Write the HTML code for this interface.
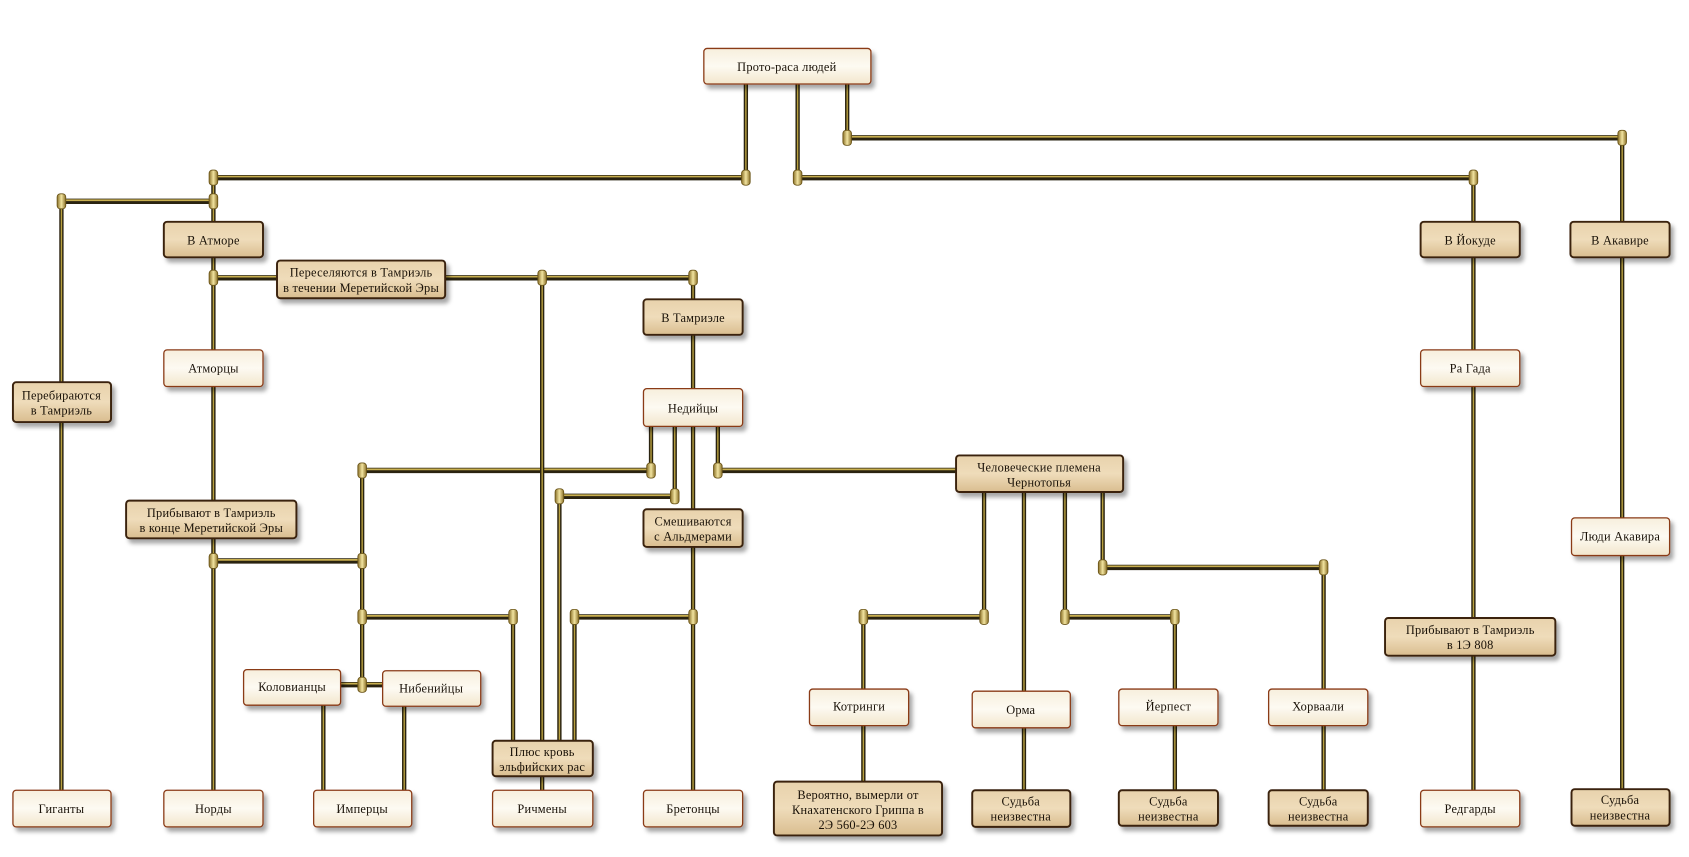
<!DOCTYPE html>
<html><head><meta charset="utf-8">
<style>
html,body{margin:0;padding:0;background:#fff;width:1689px;height:857px;overflow:hidden}
svg{display:block}
text{font-family:"Liberation Serif","DejaVu Serif",serif;font-size:11.5px;fill:#1a1208;text-anchor:middle;letter-spacing:0.2px}
</style></head><body>
<svg width="1689" height="857" viewBox="0 0 1567 796" preserveAspectRatio="none" xmlns="http://www.w3.org/2000/svg">
<defs>
<linearGradient id="tan" x1="0" y1="0" x2="0" y2="1"><stop offset="0" stop-color="#e8d2ac"/><stop offset="0.5" stop-color="#efdcba"/><stop offset="1" stop-color="#d9bd8f"/></linearGradient>
<linearGradient id="cream" x1="0" y1="0" x2="0" y2="1"><stop offset="0" stop-color="#f7efdd"/><stop offset="0.5" stop-color="#fdfaf2"/><stop offset="1" stop-color="#f2e6cc"/></linearGradient>
<linearGradient id="node" x1="0" y1="0" x2="1" y2="0"><stop offset="0" stop-color="#8a7028"/><stop offset="0.5" stop-color="#f2e4a0"/><stop offset="1" stop-color="#8a7028"/></linearGradient>
<filter id="sh" x="-10%" y="-10%" width="130%" height="150%"><feDropShadow dx="3" dy="4" stdDeviation="2" flood-color="#000" flood-opacity="0.35"/></filter>
</defs>
<g id="pipes" fill="none" stroke-linecap="butt">
<g stroke="#2a2310" stroke-width="5">
<path d="M198 165H692M740 165H1367M786 128H1505M57 187H198M198 258H643M336 437H604M666 437H887M519 461H626M198 521H336M336 573H476M533 573H643M801 573H913M988 573H1090M1023 527H1228M316 636H355"/>
</g>
<g stroke="#c9b050" stroke-width="1.6">
<path d="M198 164H692M740 164H1367M786 127H1505M57 186H198M198 257H643M336 436H604M666 436H887M519 460H626M198 520H336M336 572H476M533 572H643M801 572H913M988 572H1090M1023 526H1228M316 635H355"/>
</g>
<g stroke="#2a2310" stroke-width="4">
<path d="M692 78V165M740 78V165M786 78V128M198 165V734M57 187V734M1367 165V734M1505 128V733M503 258V734M643 258V734M604 396V437M626 396V461M666 396V437M519 461V688M533 573V688M476 573V688M336 437V636M300 655V734M375 656V734M913 457V573M950 457V734M988 457V573M1023 457V527M801 573V726M1090 573V734M1228 527V734"/>
</g>
<g stroke="#b8a040" stroke-width="1.3">
<path d="M692 78V165M740 78V165M786 78V128M198 165V734M57 187V734M1367 165V734M1505 128V733M503 258V734M643 258V734M604 396V437M626 396V461M666 396V437M519 461V688M533 573V688M476 573V688M336 437V636M300 655V734M375 656V734M913 457V573M950 457V734M988 457V573M1023 457V527M801 573V726M1090 573V734M1228 527V734"/>
</g>
</g>
<g id="nodes" fill="url(#node)" stroke="#6a5418" stroke-width="0.8">
<rect x="688" y="158" width="8" height="14" rx="3"/><rect x="736" y="158" width="8" height="14" rx="3"/>
<rect x="782" y="121" width="8" height="14" rx="3"/><rect x="1501" y="121" width="8" height="14" rx="3"/>
<rect x="1363" y="158" width="8" height="14" rx="3"/><rect x="194" y="158" width="8" height="14" rx="3"/>
<rect x="194" y="180" width="8" height="14" rx="3"/><rect x="53" y="180" width="8" height="14" rx="3"/>
<rect x="194" y="251" width="8" height="14" rx="3"/><rect x="499" y="251" width="8" height="14" rx="3"/>
<rect x="639" y="251" width="8" height="14" rx="3"/><rect x="600" y="430" width="8" height="14" rx="3"/>
<rect x="332" y="430" width="8" height="14" rx="3"/><rect x="662" y="430" width="8" height="14" rx="3"/>
<rect x="622" y="454" width="8" height="14" rx="3"/><rect x="515" y="454" width="8" height="14" rx="3"/>
<rect x="194" y="514" width="8" height="14" rx="3"/><rect x="332" y="514" width="8" height="14" rx="3"/>
<rect x="332" y="566" width="8" height="14" rx="3"/><rect x="472" y="566" width="8" height="14" rx="3"/>
<rect x="529" y="566" width="8" height="14" rx="3"/><rect x="639" y="566" width="8" height="14" rx="3"/>
<rect x="332" y="629" width="8" height="14" rx="3"/><rect x="797" y="566" width="8" height="14" rx="3"/>
<rect x="909" y="566" width="8" height="14" rx="3"/><rect x="984" y="566" width="8" height="14" rx="3"/>
<rect x="1086" y="566" width="8" height="14" rx="3"/><rect x="1019" y="520" width="8" height="14" rx="3"/>
<rect x="1224" y="520" width="8" height="14" rx="3"/>
</g>
<g filter="url(#sh)" fill="url(#tan)" stroke="#3a2410" stroke-width="1.8">
<rect x="152" y="206" width="92" height="33" rx="3"/>
<rect x="257" y="242" width="156" height="35" rx="3"/>
<rect x="597" y="278" width="92" height="33" rx="3"/>
<rect x="12" y="355" width="91" height="37" rx="3"/>
<rect x="117" y="465" width="158" height="35" rx="3"/>
<rect x="597" y="473" width="92" height="35" rx="3"/>
<rect x="887" y="423" width="155" height="34" rx="3"/>
<rect x="457" y="688" width="93" height="33" rx="3"/>
<rect x="718" y="726" width="156" height="50" rx="3"/>
<rect x="902" y="734" width="91" height="34" rx="3"/>
<rect x="1038" y="734" width="92" height="33" rx="3"/>
<rect x="1177" y="734" width="92" height="33" rx="3"/>
<rect x="1458" y="733" width="91" height="34" rx="3"/>
<rect x="1318" y="206" width="92" height="33" rx="3"/>
<rect x="1457" y="206" width="92" height="33" rx="3"/>
<rect x="1285" y="574" width="158" height="35" rx="3"/>
</g>
<g filter="url(#sh)" fill="url(#cream)" stroke="#8a3a18" stroke-width="1.2">
<rect x="653" y="45" width="155" height="33" rx="3"/>
<rect x="152" y="325" width="92" height="34" rx="3"/>
<rect x="597" y="361" width="92" height="35" rx="3"/>
<rect x="226" y="622" width="90" height="33" rx="3"/>
<rect x="355" y="623" width="91" height="33" rx="3"/>
<rect x="12" y="734" width="91" height="34" rx="3"/>
<rect x="152" y="734" width="92" height="34" rx="3"/>
<rect x="291" y="734" width="91" height="34" rx="3"/>
<rect x="457" y="734" width="93" height="34" rx="3"/>
<rect x="597" y="734" width="92" height="34" rx="3"/>
<rect x="751" y="640" width="92" height="34" rx="3"/>
<rect x="902" y="642" width="91" height="34" rx="3"/>
<rect x="1038" y="640" width="92" height="34" rx="3"/>
<rect x="1177" y="640" width="92" height="34" rx="3"/>
<rect x="1318" y="325" width="92" height="34" rx="3"/>
<rect x="1458" y="481" width="91" height="35" rx="3"/>
<rect x="1318" y="734" width="92" height="34" rx="3"/>
</g>
<g>
<text x="730" y="66">Прото-раса людей</text>
<text x="198" y="227">В Атморе</text>
<text x="335" y="257">Переселяются в Тамриэль</text>
<text x="335" y="271">в течении Меретийской Эры</text>
<text x="643" y="299">В Тамриэле</text>
<text x="57" y="371">Перебираются</text>
<text x="57" y="385">в Тамриэль</text>
<text x="198" y="346">Атморцы</text>
<text x="643" y="383">Недийцы</text>
<text x="196" y="480">Прибывают в Тамриэль</text>
<text x="196" y="494">в конце Меретийской Эры</text>
<text x="643" y="488">Смешиваются</text>
<text x="643" y="502">с Альдмерами</text>
<text x="964" y="438">Человеческие племена</text>
<text x="964" y="452">Чернотопья</text>
<text x="271" y="642">Коловианцы</text>
<text x="400" y="643">Нибенийцы</text>
<text x="503" y="702">Плюс кровь</text>
<text x="503" y="716">эльфийских рас</text>
<text x="57" y="755">Гиганты</text>
<text x="198" y="755">Норды</text>
<text x="336" y="755">Имперцы</text>
<text x="503" y="755">Ричмены</text>
<text x="643" y="755">Бретонцы</text>
<text x="797" y="660">Котринги</text>
<text x="947" y="663">Орма</text>
<text x="1084" y="660">Йерпест</text>
<text x="1223" y="660">Хорваали</text>
<text x="796" y="742">Вероятно, вымерли от</text>
<text x="796" y="756">Кнахатенского Гриппа в</text>
<text x="796" y="770">2Э 560-2Э 603</text>
<text x="947" y="748">Судьба</text><text x="947" y="762">неизвестна</text>
<text x="1084" y="748">Судьба</text><text x="1084" y="762">неизвестна</text>
<text x="1223" y="748">Судьба</text><text x="1223" y="762">неизвестна</text>
<text x="1503" y="747">Судьба</text><text x="1503" y="761">неизвестна</text>
<text x="1364" y="227">В Йокуде</text>
<text x="1503" y="227">В Акавире</text>
<text x="1364" y="346">Ра Гада</text>
<text x="1364" y="589">Прибывают в Тамриэль</text>
<text x="1364" y="603">в 1Э 808</text>
<text x="1503" y="502">Люди Акавира</text>
<text x="1364" y="755">Редгарды</text>
</g>
</svg>
</body></html>
